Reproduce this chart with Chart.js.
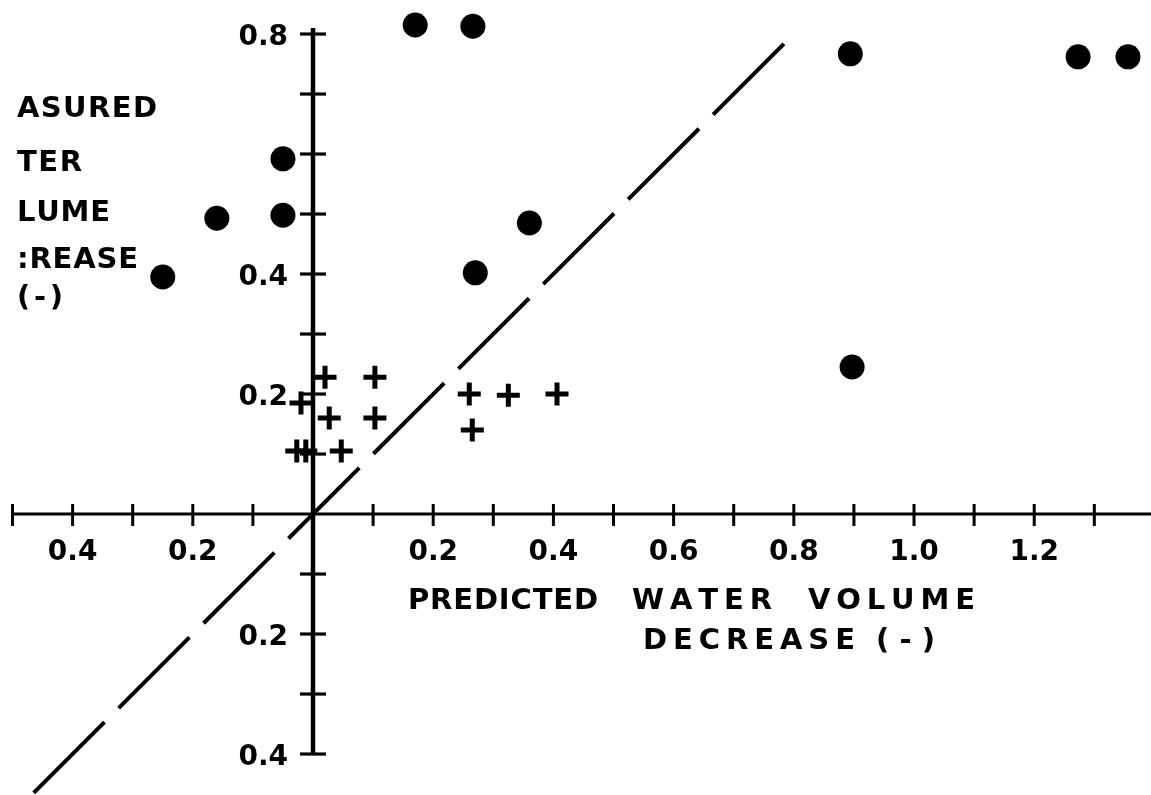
<!DOCTYPE html>
<html><head><meta charset="utf-8">
<script src="https://cdn.jsdelivr.net/npm/chart.js@4.4.1/dist/chart.umd.min.js"></script>
<style>html,body{margin:0;padding:0;background:#fff;}canvas{display:block}</style>
</head><body>
<canvas id="c" width="1151" height="795"></canvas>
<script>
// ---- data ----
const dotX = [-0.25, -0.16, -0.05, -0.05, 0.17, 0.266, 0.27, 0.36, 0.894, 0.897, 1.273, 1.356];
const dotY = [0.395, 0.493, 0.592, 0.498, 0.815, 0.813, 0.402, 0.485, 0.767, 0.245, 0.762, 0.762];

const plusX = [0.020, 0.103, -0.020, 0.027, 0.103, -0.027, -0.012, 0.047, 0.260, 0.325, 0.406, 0.265];
const plusY = [0.228, 0.228, 0.185, 0.160, 0.160, 0.105, 0.105, 0.105, 0.200, 0.198, 0.200, 0.140];

const diagX = [-0.48, 0.80];
const diagY = [-0.48, 0.80];

const xTickValues = [-0.4, -0.2, 0.2, 0.4, 0.6, 0.8, 1.0, 1.2];
const xTickLabels = ['0.4', '0.2', '0.2', '0.4', '0.6', '0.8', '1.0', '1.2'];
const yTickValues = [0.8, 0.4, 0.2, -0.2, -0.4];
const yTickLabels = ['0.8', '0.4', '0.2', '0.2', '0.4'];

const yTitleLines = ['ASURED', 'TER', 'LUME', ':REASE', '(-)'];
const xTitleLine1 = ['PREDICTED', 'WATER', 'VOLUME'];
const xTitleLine2 = ['DECREASE', '(-)'];

// ---- helpers ----
function labelFor(values, labels, v) {
  const r = Math.round(v * 10) / 10;
  const i = values.findIndex(t => Math.abs(t - r) < 1e-6);
  return i >= 0 ? labels[i] : '';
}
const FONT = '"DejaVu Sans", "Liberation Sans", sans-serif';

function drawSpaced(ctx, text, x0, x1, yCenter, size) {
  ctx.font = 'bold ' + size + 'px ' + FONT;
  const chars = [...text];
  const widths = chars.map(c => ctx.measureText(c).width);
  const total = widths.reduce((a, b) => a + b, 0);
  const extra = chars.length > 1 ? (x1 - x0 - total) / (chars.length - 1) : 0;
  const baseline = yCenter + size * 0.365;
  let x = x0;
  ctx.textBaseline = 'alphabetic';
  ctx.textAlign = 'left';
  chars.forEach((c, i) => { ctx.fillText(c, x, baseline); x += widths[i] + extra; });
}

function noPadding(scale) {
  scale.paddingLeft = 0; scale.paddingRight = 0;
  scale.paddingTop = 0; scale.paddingBottom = 0;
}

const crossAxes = {
  id: 'crossAxes',
  beforeDraw(chart) {
    // y-axis labels sit left of the centred axis, a little below each tick
    const items = chart.scales.y.getLabelItems();
    if (!items._shifted) {
      items.forEach(it => { it.options.translation[0] -= 25; it.options.translation[1] += 4; });
      items._shifted = true;
    }
  },
  beforeDatasetsDraw(chart) {
    const { ctx, scales: { x, y } } = chart;
    const x0 = x.getPixelForValue(0), y0 = y.getPixelForValue(0);
    ctx.save();
    ctx.strokeStyle = '#000';
    ctx.lineCap = 'butt';
    // horizontal axis
    ctx.lineWidth = 3;
    ctx.beginPath();
    ctx.moveTo(x.getPixelForValue(-0.5) - 1, y0);
    ctx.lineTo(x.right, y0);
    ctx.stroke();
    x.ticks.forEach(t => {
      if (Math.abs(t.value) < 1e-9) return;
      const px = x.getPixelForValue(t.value);
      ctx.beginPath(); ctx.moveTo(px, y0 - 10); ctx.lineTo(px, y0 + 12); ctx.stroke();
    });
    // vertical axis
    ctx.lineWidth = 4.5;
    ctx.beginPath();
    ctx.moveTo(x0, y.getPixelForValue(0.81));
    ctx.lineTo(x0, y.getPixelForValue(-0.4));
    ctx.stroke();
    ctx.lineWidth = 3.2;
    y.ticks.forEach(t => {
      if (Math.abs(t.value) < 1e-9) return;
      const py = y.getPixelForValue(t.value);
      ctx.beginPath(); ctx.moveTo(x0 - 13, py); ctx.lineTo(x0 + 13, py); ctx.stroke();
    });
    ctx.restore();
  },
  afterDraw(chart) {
    const ctx = chart.ctx;
    ctx.save();
    ctx.fillStyle = '#000';
    // partially visible vertical-axis title
    const yT = [[17, 157, 106], [17, 82, 160], [17, 110, 210], [17, 138, 257], [17, 63, 295]];
    yTitleLines.forEach((s, i) => drawSpaced(ctx, s, yT[i][0], yT[i][1], yT[i][2], 29));
    // horizontal-axis title
    const l1 = [[408, 598], [632, 772], [808, 975]];
    xTitleLine1.forEach((s, i) => drawSpaced(ctx, s, l1[i][0], l1[i][1], 598, 29));
    const l2 = [[643, 855], [876, 935]];
    xTitleLine2.forEach((s, i) => drawSpaced(ctx, s, l2[i][0], l2[i][1], 638, 29));
    ctx.restore();
  }
};

const toPts = (xs, ys) => xs.map((v, i) => ({ x: v, y: ys[i] }));

new Chart(document.getElementById('c'), {
  type: 'scatter',
  data: {
    datasets: [
      {
        type: 'line',
        data: toPts(diagX, diagY),
        borderColor: '#000',
        borderWidth: 4,
        borderDash: [100, 20],
        borderDashOffset: 107,
        pointRadius: 0,
        fill: false,
        tension: 0
      },
      {
        data: toPts(dotX, dotY),
        pointStyle: 'circle',
        pointRadius: 12.5,
        pointBorderWidth: 0,
        pointBackgroundColor: '#000',
        pointBorderColor: '#000'
      },
      {
        data: toPts(plusX, plusY),
        pointStyle: 'cross',
        pointRadius: 11.5,
        pointBorderWidth: 5,
        pointBorderColor: '#000',
        pointBackgroundColor: '#000'
      }
    ]
  },
  options: {
    responsive: false,
    animation: false,
    layout: { padding: 0, autoPadding: false },
    plugins: { legend: { display: false }, tooltip: { enabled: false } },
    events: [],
    scales: {
      x: {
        type: 'linear',
        min: -0.5208, max: 1.3943,
        position: { y: 0 },
        afterFit: noPadding,
        grid: { display: false, drawTicks: false },
        border: { display: false },
        ticks: {
          stepSize: 0.1, autoSkip: false, includeBounds: false, maxRotation: 0,
          padding: 22, color: '#000',
          font: { family: FONT, size: 28, weight: 'bold' },
          callback: v => labelFor(xTickValues, xTickLabels, v)
        }
      },
      y: {
        type: 'linear',
        min: -0.4683, max: 0.8567,
        position: { x: 0 },
        afterFit: noPadding,
        grid: { display: false, drawTicks: false },
        border: { display: false },
        ticks: {
          stepSize: 0.1, autoSkip: false, includeBounds: false,
          padding: 0, color: '#000',
          font: { family: FONT, size: 28, weight: 'bold' },
          callback: v => labelFor(yTickValues, yTickLabels, v)
        }
      }
    }
  },
  plugins: [crossAxes]
});
</script>
</body></html>
